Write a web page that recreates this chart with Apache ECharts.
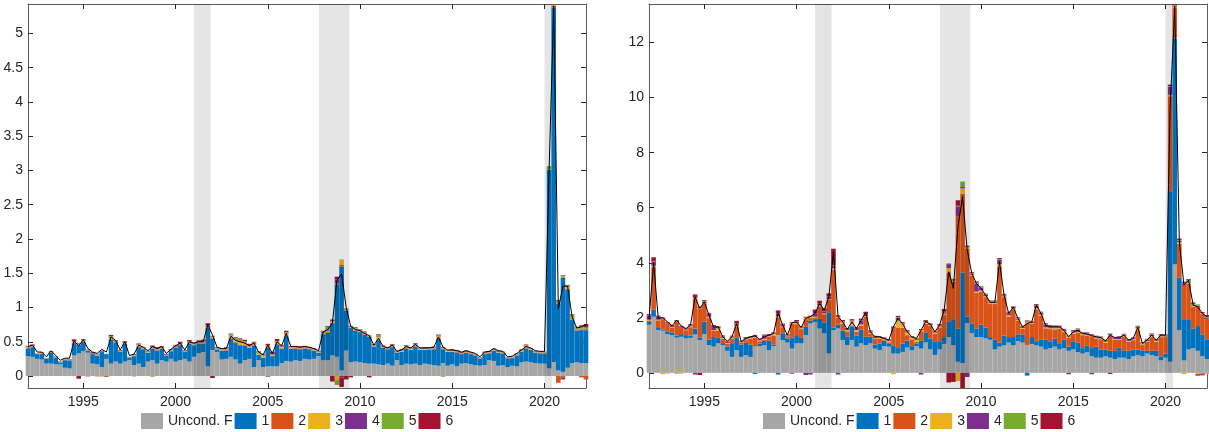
<!DOCTYPE html>
<html>
<head>
<meta charset="utf-8">
<script src="https://cdn.jsdelivr.net/npm/echarts@6/dist/echarts.min.js"></script>
<style>
  html, body { margin: 0; padding: 0; background: #ffffff; }
  #chart { width: 1209px; height: 432px; }
</style>
</head>
<body>
<div id="chart"></div>
<script>
// Quarterly observations, 1992Q1 .. 2022Q2
const firstYear = 1992;
const lastYear = 2022.25;
const nQuarters = 122;
const quarterLabels = Array.from({ length: nQuarters }, (_, k) => (firstYear + 0.25 * k).toFixed(2));

const xTickYears = [1995, 2000, 2005, 2010, 2015, 2020];
const yTicksLeft = [0, 0.5, 1, 1.5, 2, 2.5, 3, 3.5, 4, 4.5, 5];
const yTicksRight = [0, 2, 4, 6, 8, 10, 12];

// NBER recession periods (shaded)
const recessions = [[2001.0, 2001.9], [2007.77, 2009.42], [2020.0, 2020.4]];

const componentNames = ['Uncond. F', '1', '2', '3', '4', '5', '6'];
const componentColors = ['#a6a6a6', '#0072bd', '#d95319', '#edb120', '#7e2f8e', '#77ac30', '#a2142f'];

// ---------- Left panel ----------
const leftTotal = [
  0.43,0.45,0.35,0.35,0.28,0.37,0.30,0.23,0.26,0.26,
  0.51,0.44,0.53,0.40,0.35,0.33,0.39,0.35,0.57,0.52,
  0.38,0.50,0.30,0.32,0.45,0.42,0.37,0.43,0.40,0.43,
  0.33,0.39,0.44,0.48,0.38,0.50,0.48,0.50,0.50,0.75,
  0.60,0.42,0.40,0.40,0.58,0.52,0.50,0.48,0.44,0.48,
  0.35,0.31,0.45,0.33,0.50,0.44,0.62,0.43,0.43,0.42,
  0.43,0.42,0.40,0.37,0.64,0.68,0.77,1.40,1.49,1.00,
  0.72,0.68,0.66,0.62,0.59,0.45,0.55,0.43,0.41,0.45,
  0.36,0.38,0.43,0.41,0.46,0.41,0.41,0.41,0.42,0.57,
  0.42,0.38,0.38,0.37,0.35,0.37,0.35,0.33,0.28,0.35,
  0.36,0.40,0.37,0.36,0.28,0.29,0.33,0.38,0.43,0.41,
  0.37,0.36,0.36,3.00,5.40,0.98,1.31,1.31,0.86,0.70,
  0.72,0.75];
const leftUncond = [
  0.29,0.28,0.25,0.24,0.18,0.18,0.17,0.17,0.12,0.11,
  0.30,0.33,0.36,0.34,0.18,0.17,0.13,0.25,0.18,0.21,
  0.18,0.21,0.23,0.16,0.18,0.13,0.21,0.23,0.18,0.23,
  0.21,0.25,0.21,0.23,0.25,0.21,0.28,0.33,0.35,0.14,
  0.38,0.35,0.24,0.25,0.28,0.24,0.18,0.23,0.25,0.13,
  0.23,0.13,0.14,0.14,0.14,0.19,0.22,0.21,0.23,0.22,
  0.25,0.24,0.25,0.29,0.23,0.23,0.30,0.28,0.08,0.37,
  0.20,0.21,0.20,0.19,0.18,0.18,0.17,0.16,0.18,0.15,
  0.23,0.16,0.18,0.17,0.18,0.16,0.18,0.17,0.16,0.15,
  0.19,0.15,0.17,0.14,0.18,0.19,0.17,0.16,0.15,0.16,
  0.23,0.22,0.15,0.16,0.13,0.15,0.14,0.20,0.21,0.20,
  0.19,0.18,0.18,0.11,0.20,0.08,0.06,0.12,0.19,0.20,
  0.19,0.19];
const leftShock1 = [
  0.11,0.14,0.07,0.08,0.07,0.16,0.10,0.03,0.11,0.12,
  0.18,0.12,0.14,0.03,0.14,0.13,0.22,0.07,0.35,0.28,
  0.17,0.26,0.04,0.13,0.24,0.26,0.13,0.17,0.19,0.17,
  0.09,0.11,0.20,0.22,0.10,0.26,0.17,0.14,0.12,0.56,
  0.17,0.04,0.13,0.12,0.26,0.25,0.27,0.21,0.16,0.31,
  0.08,0.14,0.27,0.15,0.32,0.21,0.36,0.19,0.17,0.17,
  0.15,0.15,0.12,0.05,0.38,0.40,0.47,1.05,1.52,0.58,
  0.50,0.45,0.44,0.41,0.39,0.25,0.35,0.25,0.21,0.27,
  0.11,0.19,0.22,0.21,0.25,0.22,0.20,0.21,0.23,0.39,
  0.20,0.20,0.18,0.20,0.14,0.15,0.15,0.14,0.10,0.16,
  0.10,0.15,0.19,0.17,0.12,0.11,0.16,0.15,0.19,0.18,
  0.15,0.15,0.15,2.90,5.18,0.97,1.38,1.14,0.63,0.46,
  0.48,0.48];
const leftShock2 = [
  0.01,0.005,0,0.005,0,0.005,0,0,0.005,0,
  0.005,0.01,0,0.005,0,-0.005,0.005,0,0.01,0.005,
  0,0.005,0,-0.005,0.01,0.005,0,0.005,0.01,0,
  0,0.005,0.01,0.005,0,0.01,0.005,0.01,0.01,0.01,
  0.01,0,0.005,0.01,0.01,0.005,0.01,0.01,0.005,0.01,
  0.005,0,0.01,0.005,0.01,0.005,0.01,0.005,0.01,0.005,
  0.01,0.005,0.005,0,0.01,0.01,0.01,0.02,0.02,0.01,
  0.01,0.01,0.005,0.01,0.01,0.005,0.01,0.005,0.005,0.01,
  0.005,0.005,0.01,0.005,0.01,0.005,0.005,0.01,0.005,0.01,
  0.005,0.005,0.005,0.01,0.005,0.005,0.01,0.005,0,0.005,
  0.005,0.005,0.005,0.005,0,0.005,0.005,0.01,0.01,0.005,
  0.005,0.005,0.005,0,0.03,-0.10,-0.02,0.01,0.01,0.01,
  -0.02,-0.05];
const leftShock3 = [
  0.01,0.01,0.005,0.01,0.005,0.01,0.005,0.005,0.01,0.005,
  0.01,0.01,0.02,0.01,0.005,0.01,-0.01,-0.005,0.02,0.01,
  0.01,0.01,0.005,0.01,0.02,0.01,0.01,0.01,0.01,0.01,
  0.005,0.01,0.01,0.01,0.01,0.01,0.01,0.01,0.01,0.01,
  0.01,0.01,0.01,0.01,0.03,0.03,0.04,0.03,0.02,0.02,
  0.01,0.02,0.02,0.01,0.02,0.02,0.03,0.01,0.01,0.01,
  0.01,0.01,0.01,0.01,0.01,0.02,0.02,-0.06,0.07,0.01,
  0.01,0.02,0.01,0.01,0.01,0.01,0.04,0.01,0.01,0.01,
  0.005,0.01,0.01,0.01,0.01,0.01,0.01,0.01,0.01,0.03,
  0.01,0.01,0.01,0.005,0.005,0.005,0.005,0.005,0.005,0.01,
  0.01,0.01,0.01,0.005,0.005,0.005,0.01,0.01,0.02,0.01,
  0.005,0.005,0.005,0.005,0.01,0.01,0.01,0.03,0.01,0.01,
  0.01,0.01];
const leftShock4 = [
  0.005,0.01,0,0.005,0,0,0.005,0,0,0.005,
  0.005,0.01,0.005,-0.005,0.01,0.005,0.005,0,0.01,0.005,
  0.005,0.01,0,0.005,0.01,0.005,0.005,0.01,0.005,0.01,
  0.005,0.005,0.01,0.01,0.005,0.01,0.005,0.005,0.01,0.01,
  0.01,0.005,0.005,0.01,0.01,0.01,0.01,0.01,0.005,0.01,
  0.005,0.005,-0.01,0.005,0.01,0.01,0.01,0.005,0.005,0.01,
  0.005,0.005,0.005,0.005,0.01,0.01,0.02,0.06,-0.02,0.01,
  0.01,0.005,0.01,0.01,0.005,0.005,0.01,0.005,0.005,0.01,
  0.005,0.01,0.01,0.005,0.01,0.005,0.01,0.005,0.01,0.01,
  0.005,0.005,0.01,0.005,0.005,0.01,0.005,0.005,0.005,0.005,
  0.005,0.005,0.01,0.005,0.005,0.005,0.005,0.005,0.01,0.005,
  0.005,0.005,0.005,0,0.01,0.01,-0.03,0.01,0.01,0.01,
  0.01,0.01];
const leftShock5 = [
  0.005,0.005,0,0.005,0,0.005,0,0.005,0,0,
  0.005,0.005,0.005,0,0.005,0.005,0,0.005,0.01,0.005,
  0.005,0.005,0,0.005,0.005,0.005,0.005,-0.01,0.005,0.005,
  0,0.005,0.005,0.005,0.005,0.005,0.005,0.005,0.01,0.01,
  0.01,0.005,0.005,0.01,0.02,0.02,0.03,0.02,0.01,0.01,
  0.02,0.02,0.01,0.005,0.01,0.01,0.01,0.005,0.005,0.01,
  0.005,0.005,0.005,0.005,0.01,0.05,0.01,-0.07,0.01,0.01,
  0.005,0.01,0.005,0.01,0.005,0.005,0.02,0.005,0.005,0.005,
  0.005,0.01,0.01,0.005,0.01,0.005,0.005,0.005,0.005,0.005,
  -0.01,0.005,0.005,0.005,0.005,0.005,0.005,0.005,0,0.005,
  0.005,0.005,0.005,0.005,0,0.005,0.005,0.005,0.01,0.005,
  0.005,0.005,0.005,0.04,0.01,0.03,0.01,0.01,0.04,0.02,
  0.03,0.02];
const leftShock6 = [
  0.01,0.01,0.005,0.005,0.005,0.005,0.005,0.005,0.005,0.005,
  0.03,-0.04,0.01,0.005,0.01,0.005,0.01,-0.01,0.02,0.01,
  0.01,0.01,0.005,0.01,0.01,0.01,0.01,0.02,0.02,0.01,
  0.01,0.01,0.01,0.02,0.01,0.02,0.01,0.02,0.02,0.03,
  -0.03,0.01,0.01,0.01,0.01,0.01,0.01,0.02,0.02,0.01,
  0.01,0.01,0.02,0.04,0.03,0.01,0.02,0.01,0.01,0.01,
  0.01,0.01,0.01,0.01,0.01,0.01,-0.08,0.04,-0.14,-0.05,
  -0.02,0.01,0.01,0.01,-0.02,0.01,0.01,0.01,0.01,0.01,
  0.01,0.01,0.01,0.01,0.01,0.01,0.01,0.01,0.01,0.01,
  0.01,0.005,0.01,0.01,0.01,0.005,0.005,0.005,0.01,0.01,
  0.01,0.005,0.005,0.005,0.01,0.005,0.005,0.01,0.01,0.005,
  0.005,0.005,0.005,0.005,0.02,0.01,0.01,0.01,0.01,0.01,
  0.02,0.05];

// ---------- Right panel ----------
const rightTotal = [
  1.95,4.00,1.98,2.01,1.85,1.71,1.92,1.70,1.61,1.73,
  2.76,2.34,2.58,2.10,1.67,1.67,1.31,1.15,1.31,1.79,
  1.13,1.25,1.31,1.35,1.21,1.31,1.37,1.43,2.18,1.73,
  1.37,1.82,1.85,1.65,1.98,2.04,2.16,2.52,2.28,2.76,
  4.40,2.04,1.85,1.58,1.85,1.61,1.92,2.18,1.49,1.31,
  1.31,1.25,1.19,1.67,1.98,1.79,1.49,1.31,1.25,1.55,
  1.87,1.77,1.49,1.73,2.28,3.67,3.07,5.31,6.40,4.46,
  3.61,3.25,3.07,2.82,2.56,2.56,4.04,2.82,2.16,2.38,
  1.98,1.67,1.79,1.85,2.46,2.16,1.73,1.67,1.67,1.67,
  1.55,1.31,1.49,1.55,1.43,1.41,1.35,1.31,1.28,1.16,
  1.37,1.27,1.27,1.37,1.19,1.25,1.65,1.07,1.19,1.37,
  1.19,1.37,1.37,9.60,13.30,4.76,3.19,3.37,2.46,2.40,
  2.16,2.04];
const rightUncond = [
  1.75,2.04,1.55,1.53,1.41,1.37,1.28,1.31,1.25,1.27,
  1.39,1.19,1.41,1.01,0.95,1.07,1.00,0.80,0.58,0.82,
  0.58,0.64,0.58,0.95,0.97,1.01,0.82,0.97,1.37,1.19,
  1.10,0.88,1.07,1.07,1.37,1.79,1.85,1.61,1.43,0.70,
  1.55,1.61,1.19,1.01,1.19,0.95,1.07,1.01,1.07,0.88,
  0.82,0.97,0.95,0.70,0.70,0.76,0.92,0.82,0.97,0.88,
  1.10,0.85,0.65,0.85,1.05,1.30,1.00,0.40,0.35,1.80,
  1.45,1.30,1.30,1.25,1.20,0.85,0.95,1.00,1.10,1.00,
  1.15,1.10,1.00,1.05,1.00,0.95,0.85,0.90,0.95,0.85,
  0.90,0.80,0.85,0.75,0.70,0.75,0.60,0.55,0.55,0.60,
  0.55,0.50,0.55,0.55,0.50,0.60,0.65,0.60,0.70,0.65,
  0.60,0.45,0.55,0.40,3.95,1.55,0.45,0.85,0.90,0.80,
  0.60,0.50];
const rightShock1 = [
  0.10,0.25,0.08,0.05,0.10,0.10,0.08,0.10,0.12,0.08,
  0.22,0.10,0.45,0.20,0.35,0.20,0.08,0.15,0.50,0.45,
  0.45,0.45,0.45,-0.04,0.10,0.15,0.35,0.05,-0.06,0.25,
  0.15,0.40,0.30,0.20,0.30,0.10,0.10,0.35,0.40,1.50,
  0.10,0.15,0.35,0.30,0.50,0.40,0.50,0.30,0.25,0.15,
  0.25,0.20,0.10,0.30,0.20,0.30,0.25,0.15,0.10,0.30,
  0.35,0.40,0.50,0.30,0.25,0.55,0.95,1.20,3.30,0.25,
  0.35,0.30,0.45,0.40,0.10,0.35,0.15,0.35,0.20,0.30,
  0.25,0.30,-0.10,0.25,0.15,0.25,0.35,0.25,0.30,0.20,
  0.30,0.15,0.30,0.35,0.20,0.25,0.30,0.40,0.30,0.25,
  0.25,0.30,0.35,0.25,0.30,0.25,0.20,0.20,0.10,0.15,
  0.20,0.15,0.15,6.20,8.20,1.90,1.50,1.10,0.70,0.90,
  0.80,0.70];
const rightShock2 = [
  0.05,1.55,0.28,0.36,0.28,0.16,0.50,0.23,0.18,0.31,
  1.08,1.05,0.64,0.78,0.22,0.25,0.15,0.12,0.17,0.40,
  0.06,0.10,0.22,0.33,0.08,0.05,0.14,0.34,0.65,0.22,
  0.05,0.50,0.40,0.32,0.28,0.10,0.05,0.45,0.30,0.45,
  2.10,0.25,0.24,0.20,0.03,0.15,0.15,0.72,0.10,0.22,
  0.18,0.03,0.06,0.62,0.75,0.58,0.20,0.25,0.05,0.33,
  0.34,0.45,0.28,0.50,0.80,1.80,1.35,4.10,2.85,2.45,
  1.72,1.30,1.20,1.10,1.20,1.30,2.75,1.40,0.75,1.00,
  0.50,0.20,0.80,0.48,1.15,0.88,0.42,0.44,0.33,0.56,
  0.28,0.34,0.27,0.35,0.47,0.34,0.43,0.30,0.37,0.24,
  0.54,0.41,0.30,0.50,0.33,0.34,0.68,0.21,0.32,0.50,
  0.33,0.70,0.60,3.45,1.10,1.25,1.25,1.30,0.80,0.70,
  0.74,0.75];
const rightShock3 = [
  0.03,0.05,0.02,-0.05,-0.03,0.03,-0.04,-0.03,0.02,0.03,
  0.03,0.02,0.04,0.05,0.03,0.10,0.04,0.02,0.03,0.05,
  0.02,0.03,0.02,0.02,0.03,0.03,0.02,0.05,0.04,0.03,
  0.02,0.03,0.05,0.03,0.05,0.03,0.04,0.05,0.04,0.03,
  0.04,0.02,0.05,0.04,0.15,0.05,0.04,0.03,0.04,0.02,
  0.03,0.02,0.04,-0.05,0.25,0.12,0.10,0.06,0.08,0.04,
  0.05,0.04,0.03,0.04,0.05,0.15,0.05,-0.30,0.20,0.05,
  0.04,0.05,0.04,0.03,0.05,0.04,0.10,0.03,0.04,0.04,
  0.03,0.03,0.04,0.03,0.05,0.04,0.03,0.03,0.04,0.03,
  0.04,0.03,0.04,0.03,0.04,0.05,0.03,0.03,0.03,0.04,
  0.04,0.03,0.03,0.05,0.03,0.04,0.10,0.03,0.03,0.04,
  0.03,0.03,0.02,0.05,0.05,0.05,-0.05,0.03,0.04,-0.05,
  0.03,-0.05];
const rightShock4 = [
  0.15,0.15,0.10,0.03,0.02,0.04,0.03,0.03,0.03,0.04,
  -0.06,0.05,0.05,0.10,0.15,0.05,0.04,0.04,0.04,0.05,
  0.03,0.04,0.03,0.04,0.03,0.10,0.04,0.03,0.10,0.05,
  0.04,-0.03,0.04,0.03,-0.08,-0.06,0.10,0.05,0.05,0.08,
  0.10,-0.06,0.04,0.04,0.04,0.08,0.15,0.05,0.04,0.04,
  0.03,0.04,0.03,0.04,0.10,0.03,0.04,0.03,0.03,-0.06,
  0.04,0.03,0.03,0.04,0.05,0.15,0.05,0.35,0.05,-0.15,
  0.05,0.30,0.10,0.05,0.04,0.05,0.15,0.04,0.08,0.05,
  0.04,0.04,0.03,0.04,0.10,0.06,0.10,0.04,0.03,0.03,
  0.03,-0.05,0.04,0.08,0.03,0.04,-0.05,0.03,0.03,0.03,
  0.04,0.03,0.05,0.03,0.03,0.03,0.03,0.03,0.05,0.04,
  0.03,0.03,0.02,0.30,0.03,0.05,0.04,0.04,0.03,0.05,
  0.04,0.03];
const rightShock5 = [
  0.01,0.01,0.01,0.01,0.01,0.01,0.01,0.01,0.01,0.01,
  0.01,0.01,0.02,0.01,0.01,0.01,0.01,0.01,0.01,0.02,
  0.01,0.01,0.01,0.01,0.01,0.01,0.01,0.01,0.01,0.01,
  0.01,0.01,0.01,0.01,0.01,0.02,0.01,0.01,0.01,0.01,
  0.02,0.01,0.01,0.01,0.01,0.01,0.01,0.01,0.01,0.01,
  0.01,0.01,0.01,0.01,0.02,0.02,0.02,0.01,0.02,0.01,
  0.01,0.01,0.01,0.01,0.02,0.03,0.02,0.02,0.20,0.03,
  0.02,0.03,0.02,0.02,0.02,0.02,0.02,0.02,0.02,0.02,
  0.02,0.02,0.02,0.02,0.02,0.02,0.02,0.02,0.02,0.02,
  0.02,0.01,0.02,0.02,0.02,0.02,0.01,0.02,0.02,0.01,
  0.02,0.02,0.02,0.02,0.02,0.01,0.02,0.02,0.02,0.02,
  0.02,0.02,0.02,0.02,0.02,0.03,0.03,0.06,0.04,0.04,
  -0.05,0.06];
const rightShock6 = [
  0.05,0.15,0.04,0.03,0.03,0.03,0.02,0.03,0.02,0.03,
  0.12,-0.08,0.03,0.03,0.03,0.02,0.04,0.03,0.02,0.10,
  0.02,0.03,0.02,0.03,0.02,0.04,0.03,0.02,0.10,0.04,
  0.03,0.03,0.05,0.03,0.03,0.04,0.15,0.10,0.12,0.12,
  0.60,0.05,0.04,0.03,0.03,0.02,0.05,0.10,0.03,0.03,
  0.02,0.02,0.03,0.02,0.05,0.03,0.03,0.02,0.02,0.03,
  0.03,0.02,0.03,0.03,0.10,-0.35,-0.33,0.20,-0.57,0.04,
  0.03,0.04,0.03,0.03,0.02,0.02,0.05,0.03,0.03,0.02,
  0.03,0.02,0.02,0.02,0.03,0.02,0.03,0.05,0.05,0.03,
  0.03,0.02,0.03,0.03,0.02,0.02,0.03,0.02,0.02,0.03,
  -0.04,0.02,0.03,0.02,0.02,0.02,0.03,0.02,0.02,0.03,
  0.02,0.03,0.03,0.05,0.10,0.05,0.04,0.03,0.05,-0.05,
  -0.04,0.06];

const panels = [
  {
    grid: { left: 28, top: 4, width: 558, height: 384 },
    yMin: -0.175, yMax: 5.43, yTicks: yTicksLeft, legendLeft: 141,
    total: leftTotal,
    components: [leftUncond, leftShock1, leftShock2, leftShock3, leftShock4, leftShock5, leftShock6]
  },
  {
    grid: { left: 649, top: 4, width: 558, height: 384 },
    yMin: -0.55, yMax: 13.4, yTicks: yTicksRight, legendLeft: 763,
    total: rightTotal,
    components: [rightUncond, rightShock1, rightShock2, rightShock3, rightShock4, rightShock5, rightShock6]
  }
];

const fontFamily = '"Liberation Sans", Arial, Helvetica, sans-serif';
const textColor = '#262626';
const boxColor = '#5a5a5a';

const grids = [], xAxes = [], yAxes = [], series = [], legends = [];

panels.forEach((p, g) => {
  grids.push(Object.assign({ containLabel: false }, p.grid));

  // 3g: year axis at the bottom (labels + ticks)
  xAxes.push({
    type: 'value', gridIndex: g, position: 'bottom', min: firstYear, max: lastYear,
    axisLine: { show: true, onZero: false, lineStyle: { color: boxColor, width: 1 } },
    axisTick: { show: true, inside: true, length: 5, customValues: xTickYears, lineStyle: { color: textColor } },
    axisLabel: { show: true, customValues: xTickYears, margin: 7, color: textColor, fontSize: 14, fontFamily,
                 formatter: v => String(v) },
    splitLine: { show: false }
  });
  // 3g+1: year axis at the top (ticks only); also carries the recession shading
  xAxes.push({
    type: 'value', gridIndex: g, position: 'top', min: firstYear, max: lastYear,
    axisLine: { show: true, onZero: false, lineStyle: { color: boxColor, width: 1 } },
    axisTick: { show: true, inside: true, length: 5, customValues: xTickYears, lineStyle: { color: textColor } },
    axisLabel: { show: false },
    splitLine: { show: false }
  });
  // 3g+2: quarter axis for the bars and the total line (hidden)
  xAxes.push({
    type: 'category', gridIndex: g, data: quarterLabels, boundaryGap: false, show: false
  });

  yAxes.push({
    type: 'value', gridIndex: g, position: 'left', min: p.yMin, max: p.yMax,
    axisLine: { show: true, onZero: false, lineStyle: { color: boxColor, width: 1 } },
    axisTick: { show: true, inside: true, length: 5, customValues: p.yTicks, lineStyle: { color: textColor } },
    axisLabel: { show: true, customValues: p.yTicks, margin: 5, color: textColor, fontSize: 14, fontFamily,
                 formatter: v => String(v) },
    splitLine: { show: false }
  });
  yAxes.push({
    type: 'value', gridIndex: g, position: 'right', min: p.yMin, max: p.yMax,
    axisLine: { show: true, onZero: false, lineStyle: { color: boxColor, width: 1 } },
    axisTick: { show: true, inside: true, length: 5, customValues: p.yTicks, lineStyle: { color: textColor } },
    axisLabel: { show: false },
    splitLine: { show: false }
  });

  // stacked contributions (positives stack up, negatives stack down)
  p.components.forEach((vals, j) => {
    series.push({
      name: componentNames[j], type: 'bar', stack: 'contrib' + g, stackStrategy: 'samesign',
      xAxisIndex: 3 * g + 2, yAxisIndex: 2 * g,
      barWidth: '100%', z: 2,
      itemStyle: { color: componentColors[j] },
      emphasis: { disabled: true },
      data: vals
    });
  });

  // recession shading, drawn over the bars
  series.push({
    name: 'recession', type: 'custom', xAxisIndex: 3 * g + 1, yAxisIndex: 2 * g, z: 3, silent: true,
    data: recessions,
    encode: { x: [0, 1] },
    renderItem: (params, api) => {
      const x0 = api.coord([api.value(0), 0])[0];
      const x1 = api.coord([api.value(1), 0])[0];
      const cs = params.coordSys;
      return { type: 'rect', shape: { x: x0, y: cs.y, width: x1 - x0, height: cs.height },
               style: { fill: 'rgba(0,0,0,0.1)' } };
    }
  });

  // total forecast-error variance
  series.push({
    name: 'total', type: 'line', xAxisIndex: 3 * g + 2, yAxisIndex: 2 * g, z: 4,
    symbol: 'none', silent: true,
    lineStyle: { color: '#000000', width: 1 },
    data: p.total
  });

  legends.push({
    data: componentNames, left: p.legendLeft, top: 413, padding: 0,
    orient: 'horizontal', icon: 'rect', itemWidth: 22, itemHeight: 16, itemGap: 2,
    selectedMode: false,
    textStyle: { fontSize: 14, color: textColor, fontFamily }
  });
});

const chart = echarts.init(document.getElementById('chart'), null, { renderer: 'canvas' });
chart.setOption({
  animation: false,
  backgroundColor: '#ffffff',
  grid: grids,
  xAxis: xAxes,
  yAxis: yAxes,
  legend: legends,
  series: series
});
</script>
</body>
</html>
